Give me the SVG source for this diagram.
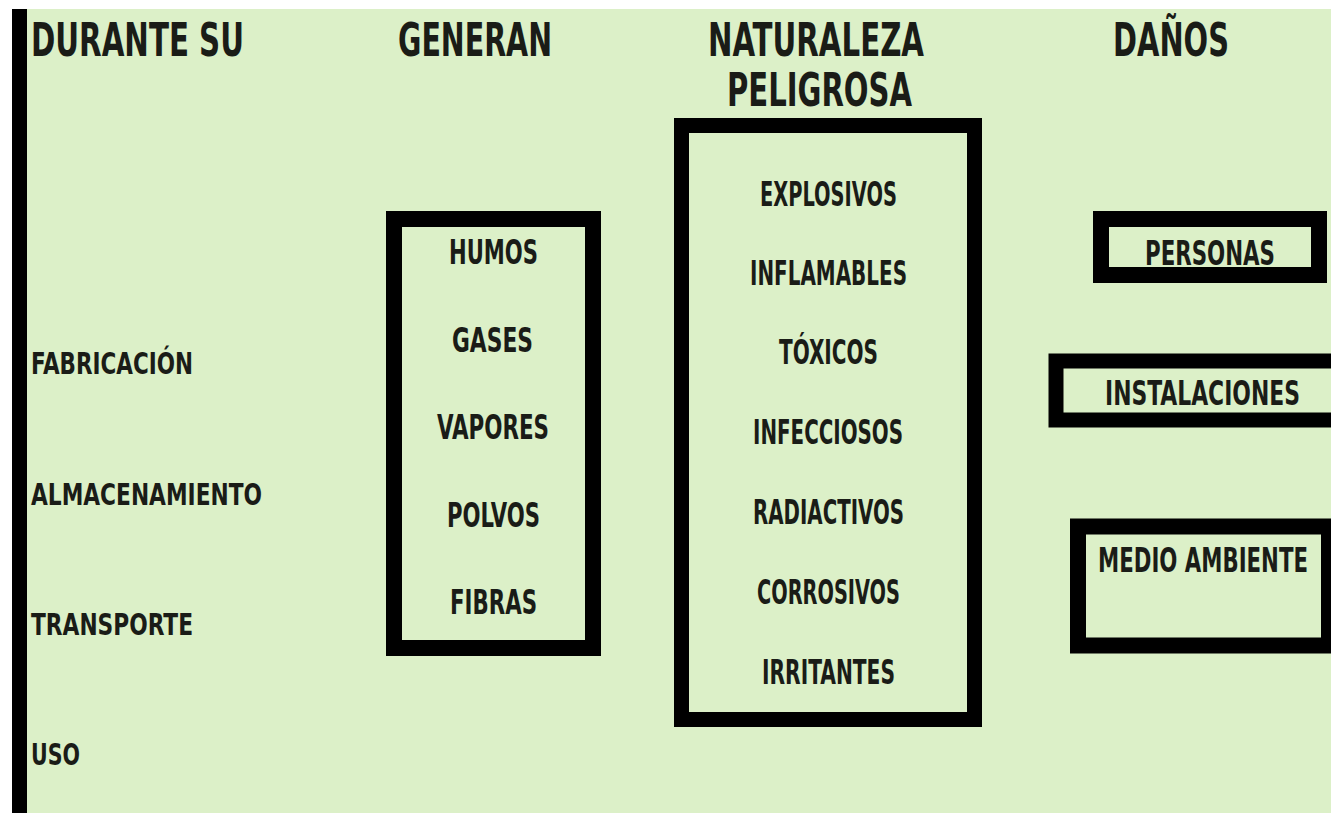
<svg xmlns="http://www.w3.org/2000/svg" width="1331" height="813" viewBox="0 0 1331 813">
<style>
text{font-family:"Liberation Sans Narrow","DejaVu Sans Condensed","Liberation Sans",sans-serif;font-weight:bold;fill:#1a1c17}
.h{font-size:46px}
.i{font-size:34px}
.l{font-size:30px}
.box{fill:none;stroke:#000}
</style>
<rect x="0" y="0" width="1331" height="813" fill="#ffffff"/>
<rect x="27" y="9" width="1304" height="804" fill="#dcf0c8"/>
<rect x="12" y="9" width="15" height="804" fill="#000"/>
<g id="headers">
<text class="h" x="31" y="56" textLength="213" lengthAdjust="spacingAndGlyphs">DURANTE SU</text>
<text class="h" x="398" y="56" textLength="154" lengthAdjust="spacingAndGlyphs">GENERAN</text>
<text class="h" x="708" y="56" textLength="216" lengthAdjust="spacingAndGlyphs">NATURALEZA</text>
<text class="h" x="727" y="106" textLength="185" lengthAdjust="spacingAndGlyphs">PELIGROSA</text>
<text class="h" x="1113" y="56" textLength="116" lengthAdjust="spacingAndGlyphs">DAÑOS</text>
</g>
<g id="etapas">
<text class="l" x="31" y="374" textLength="162" lengthAdjust="spacingAndGlyphs">FABRICACIÓN</text>
<text class="l" x="31" y="505" textLength="231" lengthAdjust="spacingAndGlyphs">ALMACENAMIENTO</text>
<text class="l" x="31" y="635" textLength="162" lengthAdjust="spacingAndGlyphs">TRANSPORTE</text>
<text class="l" x="31" y="765" textLength="49" lengthAdjust="spacingAndGlyphs">USO</text>
</g>
<g id="generan">
<rect class="box" x="394" y="219" width="199" height="429" stroke-width="16"/>
<text class="i" x="449" y="264" textLength="89" lengthAdjust="spacingAndGlyphs">HUMOS</text>
<text class="i" x="452" y="352" textLength="81" lengthAdjust="spacingAndGlyphs">GASES</text>
<text class="i" x="437" y="439" textLength="112" lengthAdjust="spacingAndGlyphs">VAPORES</text>
<text class="i" x="447" y="527" textLength="93" lengthAdjust="spacingAndGlyphs">POLVOS</text>
<text class="i" x="450" y="614" textLength="87" lengthAdjust="spacingAndGlyphs">FIBRAS</text>
</g>
<g id="naturaleza">
<rect class="box" x="681.5" y="125.5" width="293" height="594" stroke-width="15"/>
<text class="i" x="760" y="206" textLength="137" lengthAdjust="spacingAndGlyphs">EXPLOSIVOS</text>
<text class="i" x="750" y="285" textLength="157" lengthAdjust="spacingAndGlyphs">INFLAMABLES</text>
<text class="i" x="779" y="364" textLength="99" lengthAdjust="spacingAndGlyphs">TÓXICOS</text>
<text class="i" x="753" y="444" textLength="150" lengthAdjust="spacingAndGlyphs">INFECCIOSOS</text>
<text class="i" x="753" y="524" textLength="151" lengthAdjust="spacingAndGlyphs">RADIACTIVOS</text>
<text class="i" x="757" y="604" textLength="143" lengthAdjust="spacingAndGlyphs">CORROSIVOS</text>
<text class="i" x="762" y="684" textLength="133" lengthAdjust="spacingAndGlyphs">IRRITANTES</text>
</g>
<g id="personas">
<rect class="box" x="1101" y="219" width="218" height="56" stroke-width="16"/>
<text class="i" x="1145" y="265" textLength="130" lengthAdjust="spacingAndGlyphs">PERSONAS</text>
</g>
<g id="instalaciones">
<rect class="box" x="1056" y="361" width="300" height="59" stroke-width="15"/>
<text class="i" x="1105" y="405" textLength="195" lengthAdjust="spacingAndGlyphs">INSTALACIONES</text>
</g>
<g id="medio-ambiente">
<rect class="box" x="1078" y="526.5" width="251" height="119" stroke-width="16"/>
<text class="i" x="1098" y="572" textLength="210" lengthAdjust="spacingAndGlyphs">MEDIO AMBIENTE</text>
</g>
<g id="connectors"/>
</svg>
